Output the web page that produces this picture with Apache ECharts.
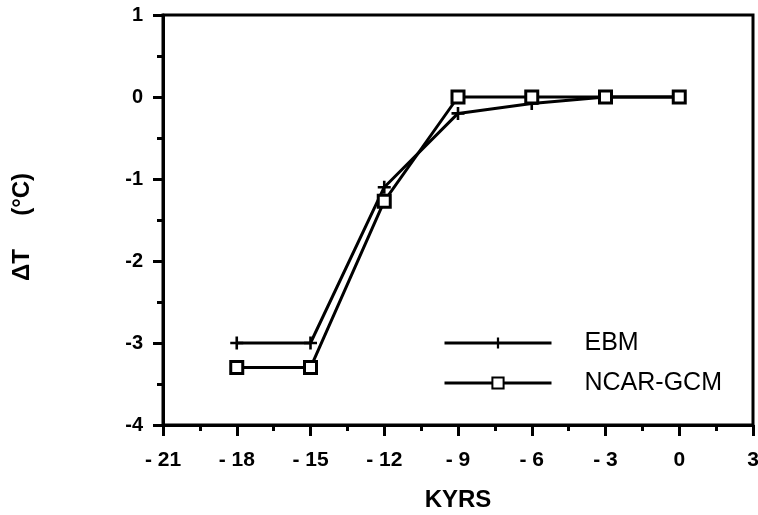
<!DOCTYPE html>
<html>
<head>
<meta charset="utf-8">
<script src="https://cdn.jsdelivr.net/npm/echarts@6/dist/echarts.min.js"></script>
<style>html,body{margin:0;padding:0;background:#fff}#c{width:758px;height:515px}</style>
</head>
<body>
<div id="c"></div>
<script>
var kyrs = [-18, -15, -12, -9, -6, -3, 0];
var ebm = [-3, -3, -1.1, -0.2, -0.08, 0, 0];
var ncar = [-3.3, -3.3, -1.27, 0, 0, 0, 0];
var xTickValues = [-21, -18, -15, -12, -9, -6, -3, 0, 3];
var xTickLabels = ['- 21', '- 18', '- 15', '- 12', '- 9', '- 6', '- 3', '0', '3'];
var yTickValues = [-4, -3, -2, -1, 0, 1];
var yTickLabels = ['-4', '-3', '-2', '-1', '0', '1'];

var font = 'Liberation Sans, Arial, sans-serif';
function pairs(xs, ys) { return xs.map(function (x, i) { return [x, ys[i]]; }); }

var chart = echarts.init(document.getElementById('c'));
chart.setOption({
  animation: false,
  backgroundColor: '#fff',
  grid: { left: 163, right: 5, top: 15, bottom: 90, outerBoundsMode: 'none', containLabel: false,
          show: true, borderColor: '#000', borderWidth: 3, backgroundColor: 'transparent' },
  legend: {
    left: 443, top: 329, orient: 'vertical', padding: 0,
    itemWidth: 107, itemHeight: 14, itemGap: 12,
    lineStyle: { color: '#000', width: 3 },
    textStyle: { fontFamily: font, fontSize: 25, lineHeight: 28, color: '#000', padding: [0, 0, 0, 28] },
    data: ['EBM', 'NCAR-GCM']
  },
  xAxis: {
    type: 'value', min: -21, max: 3, interval: 3,
    name: 'KYRS', nameLocation: 'middle', nameGap: 63,
    nameTextStyle: { fontFamily: font, fontSize: 24, fontWeight: 'bold', color: '#000' },
    axisLine: { show: true, onZero: false, lineStyle: { color: '#000', width: 3 } },
    axisTick: { show: true, length: 11, lineStyle: { color: '#000', width: 3 } },
    minorTick: { show: true, splitNumber: 2, length: 6, lineStyle: { color: '#000', width: 3 } },
    splitLine: { show: false },
    axisLabel: {
      fontFamily: font, fontSize: 21, fontWeight: 'bold', color: '#000', margin: 25,
      formatter: function (v) { var i = xTickValues.indexOf(v); return i >= 0 ? xTickLabels[i] : ''; }
    }
  },
  yAxis: {
    type: 'value', min: -4, max: 1, interval: 1,
    name: 'ΔT     (°C)', nameLocation: 'middle', nameGap: 129,
    nameTextStyle: { fontFamily: font, fontSize: 24, fontWeight: 'bold', color: '#000', padding: [0, 14, 0, 0] },
    axisLine: { show: true, onZero: false, lineStyle: { color: '#000', width: 3 } },
    axisTick: { show: true, length: 10, lineStyle: { color: '#000', width: 3 } },
    minorTick: { show: true, splitNumber: 2, length: 6, lineStyle: { color: '#000', width: 3 } },
    splitLine: { show: false },
    axisLabel: {
      fontFamily: font, fontSize: 20, fontWeight: 'bold', color: '#000', margin: 20,
      formatter: function (v) { var i = yTickValues.indexOf(v); return i >= 0 ? yTickLabels[i] : ''; }
    }
  },
  series: [
    {
      name: 'EBM', type: 'line', data: pairs(kyrs, ebm),
      symbol: 'path://M4,0H6V4H10V6H6V10H4V6H0V4H4Z', symbolSize: 13,
      lineStyle: { color: '#000', width: 3 },
      itemStyle: { color: '#000', borderWidth: 0 }
    },
    {
      name: 'NCAR-GCM', type: 'line', data: pairs(kyrs, ncar),
      symbol: 'rect', symbolSize: 12,
      lineStyle: { color: '#000', width: 3 },
      itemStyle: { color: '#fff', borderColor: '#000', borderWidth: 3 }
    }
  ]
});
</script>
</body>
</html>
